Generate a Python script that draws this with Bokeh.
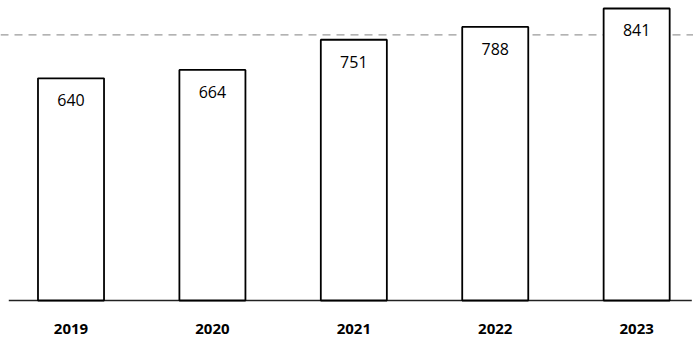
from bokeh.plotting import figure
from bokeh.models import ColumnDataSource, Range1d, Span
from bokeh.core.properties import value
from bokeh.embed import file_html
from bokeh.resources import INLINE

# Annual totals
years = ["2019", "2020", "2021", "2022", "2023"]
totals = [640, 664, 751, 788, 841]
ref_level = 765  # faint dashed reference line behind the bars

xs = list(range(len(years)))
src = ColumnDataSource(dict(x=xs, top=totals, label=[str(v) for v in totals], year=years,
                            base=[0] * len(years)))

p = figure(width=693, height=338, output_backend="svg", toolbar_location=None,
           x_range=Range1d(-0.4986, 4.402), y_range=Range1d(-109.4, 864),
           min_border=0, min_border_left=0, min_border_right=0,
           min_border_top=0, min_border_bottom=0)
p.axis.visible = False
p.grid.visible = False
p.outline_line_color = None
p.background_fill_color = "white"
p.border_fill_color = "white"

p.add_layout(Span(location=ref_level, dimension="width", line_color="#9a9a9a",
                  line_width=1.2, line_dash="8 6", level="underlay"))

# baseline
p.segment(x0=-0.44, y0=0, x1=4.39, y1=0, line_color="#222222", line_width=1.5)

p.vbar(x="x", top="top", bottom=0, width=0.467, source=src,
       fill_color="white", line_color="black", line_width=1.8)

p.text(x="x", y="top", text="label", source=src, text_align="center",
       text_baseline="middle", y_offset=22, text_font=value("Open Sans"),
       text_font_size="16px", text_color="black")

p.text(x="x", y="base", text="year", source=src, text_align="center",
       text_baseline="middle", y_offset=28, text_font=value("Open Sans"),
       text_font_style="bold", text_font_size="15px", text_color="black")

open("out.html", "w").write(file_html(p, INLINE))
